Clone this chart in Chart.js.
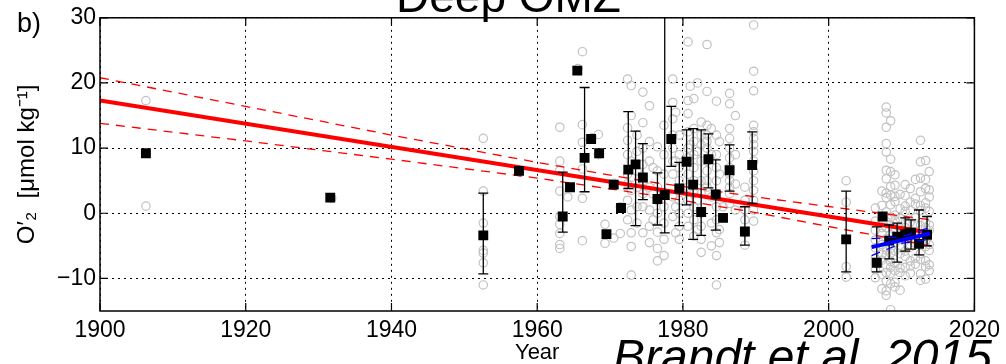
<!DOCTYPE html>
<html>
<head>
<meta charset="utf-8">
<script src="https://cdn.jsdelivr.net/npm/chart.js@4"></script>
<style>
  body { margin: 0; background: #fff; overflow: hidden; }
  #wrap { position: relative; width: 1006px; height: 364px; overflow: hidden; }
  .note { position: absolute; font-family: "Liberation Sans", Arial, sans-serif; color: #000; white-space: nowrap; line-height: 1; }
</style>
</head>
<body>
<div id="wrap">
  <canvas id="omzChart"></canvas>
  <div class="note" style="left:17px; top:10px; font-size:27px;">b)</div>
  <div class="note" style="left:396px; top:-27px; font-size:46px;">Deep OMZ</div>
  <div class="note" style="left:613px; top:333px; font-size:48px; font-style:italic;">Brandt et al. 2015</div>
</div>
<script>
// axis ticks
const xTicks = [1900, 1920, 1940, 1960, 1980, 2000, 2020];
const yTicks = [-10, 0, 10, 20, 30];

// individual profiles (gray circles), grouped by year
const obsYear = [1906.3, 1931.8, 1952.6, 1957.6, 1963.1, 1964.2, 1965.6, 1966.2, 1967.5, 1968.4,
  1969.3, 1970.5, 1971.4, 1972.4, 1972.9, 1973.7, 1974.5, 1975.4, 1975.9, 1976.5,
  1977.4, 1978.6, 1979.0, 1979.5, 1980.7, 1981.0, 1981.5, 1982.0, 1982.5, 1983.3,
  1983.9, 1984.6, 1985.0, 1985.5, 1986.4, 1987.2, 1988.5, 1989.7, 2002.4, 2006.4,
  2007.3, 2007.9, 2008.5, 2009.1, 2009.8, 2010.5, 2011.2, 2011.9, 2012.6, 2013.3,
  2013.8];
const obsO2 = [
  [17.3, 1.1],
  [2.3],
  [11.5, 3.4, -1.5, -5.7, -6.1, -7.6, -11.0],
  [6.3],
  [13.2, 8.0, 6.6, 3.4, -0.5, -1.7, -3.1, -4.8, -5.4],
  [2.5],
  [22.2],
  [24.8, 13.6, 10.9, 6.8, 2.3, -4.2],
  [11.6],
  [12.1, 9.0],
  [-1.7, -4.6],
  [4.6, -3.8],
  [1.0, -3.1],
  [20.6, 13.1, 11.2, 9.0, 6.0, 4.5, 2.0, -1.0],
  [19.6, 15.0, 8.0, 5.5, 3.5, 0.5, -3.0, -5.1, -9.5],
  [12.0, 9.5, 6.5, 4.0, 1.0, -1.5],
  [18.6, 13.9, 10.0, 7.5, 5.0, 3.0, 1.0, -3.0],
  [16.5, 11.0, 8.0, 4.0, 0.5, -2.0, -4.5],
  [7.0, 3.0, -1.0],
  [10.2, 6.5, 4.0, 2.0, 0.0, -2.9, -5.4, -7.3],
  [13.5, 9.0, 6.0, 3.0, 1.0, -1.5, -4.0, -6.5],
  [20.6, 17.0, 14.5, 12.0, 10.0, 8.0, 6.0, 2.5, -0.5],
  [15.5, 8.0, 1.0, -3.0],
  [12.0, 9.0, 7.0, 5.0, 3.5, 2.0, 0.0, -2.0, -4.0],
  [26.3, 17.3, 15.3, 12.5, 10.0, 8.5, 6.0, 4.0, 2.0, 0.0, -2.0],
  [19.5, 10.5, 4.5],
  [17.6, 13.0, 11.0, 9.0, 7.0, 5.0, 3.0, 1.0, -1.0, -3.5],
  [20.0, 9.5, 2.0, -2.5],
  [14.0, 12.0, 10.5, 8.0, 5.0, 3.0, 0.0, -2.0, -4.0, -6.0],
  [25.9, 18.7, 13.5, 12.0, 11.0, 10.0, 8.0, 6.5, 5.0, 4.0],
  [13.0, 9.0, 2.5, -1.5, -5.0],
  [17.2, 12.0, 9.0, 7.0, 5.0, 3.0, 1.0, -1.0, -3.0, -6.5, -11.0],
  [11.0, 6.0, -2.5, -4.5],
  [1.0, -0.7],
  [18.4, 16.8, 13.0, 11.5, 10.0, 8.5, 7.0, 6.0, 5.0, 4.0, 3.0, 1.5],
  [15.0, 9.0, 4.5, 0.5],
  [4.0, 2.0, 0.5, -1.0, -3.0, -4.9],
  [28.9, 21.8, 18.8, 13.5, 12.5, 11.5, 10.5, 9.5, 8.0, 6.5, 5.0, 3.5, 2.0, 0.5, -1.2],
  [5.0, 1.7, -4.0, -8.2, -9.8],
  [0.8, -1.2, -2.6, -4.1, -5.3, -6.9, -7.7, -8.6, -9.9],
  [3.4, 1.2, -0.9, -2.2, -3.1, -4.8, -6.3, -7.2, -9.4, -11.6],
  [16.3, 15.4, 13.2, 10.7, 9.4, 6.6, 5.3, 3.1, 2.4, 0.2, -1.3, -2.2, -3.9, -5.6, -6.4, -7.9, -9.1, -10.4, -11.9, -12.6],
  [14.2, 8.3, 6.4, 4.1, 2.8, 1.3, -0.6, -1.8, -3.3, -4.2, -5.4, -6.1, -7.4, -8.3, -9.2, -10.8, -14.8],
  [5.9, 4.3, 2.6, 1.8, -0.3, -1.1, -2.7, -4.6, -5.8, -7.7, -8.8, -10.6, -11.3],
  [2.9, 0.7, -0.8, -2.3, -3.2, -5.3, -6.2, -8.4, -9.1, -11.8],
  [4.4, 2.7, 1.1, 0.3, -1.4, -2.2, -3.7, -5.8, -6.6, -8.3, -9.6],
  [3.8, 1.7, 0.4, -1.3, -2.8, -3.6, -5.2, -7.3, -8.1, -9.2],
  [5.2, 2.3, 1.4, -0.7, -1.6, -3.8, -4.6, -6.9, -7.8],
  [11.2, 7.9, 5.4, 3.3, 1.2, 0.4, -1.9, -2.6, -4.3, -6.2, -7.1, -9.3, -10.3],
  [8.1, 5.2, 3.8, 1.6, 0.8, -1.4, -2.2, -4.4, -5.1, -7.3, -8.2, -10.1],
  [6.4, 3.6, 2.5, 0.3, -1.8, -2.6, -4.8, -5.7, -7.9, -8.8]
];

// yearly means (black squares) and their error bars
const meanYear = [1906.3, 1931.6, 1952.6, 1957.5, 1963.5, 1964.5, 1965.5, 1966.5, 1967.4, 1968.5,
  1969.5, 1970.5, 1971.5, 1972.5, 1973.5, 1974.5, 1976.5, 1977.5, 1978.4, 1979.5,
  1980.5, 1981.4, 1982.5, 1983.5, 1984.5, 1985.5, 1986.4, 1988.5, 1989.5, 2002.4,
  2006.6, 2007.4, 2008.3, 2009.4, 2010.5, 2011.3, 2012.4, 2013.5];
const meanO2 = [9.2, 2.4, -3.4, 6.5, -0.5, 4.0, 21.9, 8.5, 11.4, 9.2,
  -3.2, 4.4, 0.8, 6.7, 7.5, 5.5, 2.2, 2.8, 11.4, 3.8,
  7.9, 4.4, 0.2, 8.3, 2.9, -0.7, 6.6, -2.8, 7.4, -4.0,
  -7.6, -0.5, -4.2, -3.6, -3.2, -3.0, -4.7, -3.3];
const errLow = [null, null, -9.3, null, -2.9, null, null, 3.3, null, null,
  null, null, null, 3.8, -1.9, 2.1, -1.8, -3.0, 7.2, -1.9,
  1.3, -4.0, -3.4, 3.9, -2.6, null, 3.4, -4.9, 1.5, -9.0,
  -9.0, null, -7.0, -7.5, -5.8, -5.5, -6.4, -5.0];
const errHigh = [null, null, 3.1, null, 6.3, null, null, 19.3, null, null,
  null, null, null, 15.6, 12.6, 10.7, 6.2, 40, 16.4, 7.8,
  12.8, 13.0, 12.8, 12.2, 8.2, null, 10.5, 1.0, 12.5, 3.4,
  -2.1, null, -1.8, -1.5, -0.7, -1.0, 0.5, -0.5];

// long-term trend (red) with confidence bounds
const trendYear = [1900, 2014];
const trendO2 = [17.3, -3.0];
const ciYear = [1900, 1920, 1940, 1960, 1975, 1990, 2005, 2014];
const ciUpper = [20.8, 16.4, 12.0, 7.8, 4.9, 2.5, 0.3, -1.0];
const ciLower = [13.8, 11.1, 8.3, 5.4, 2.9, 0.1, -3.1, -5.0];

// recent trend (blue) with confidence bounds
const recentYear = [2005.9, 2013.9];
const recentO2 = [-5.2, -3.1];
const recentCiYear = [2005.9, 2010, 2013.9];
const recentUpper = [-3.9, -3.6, -2.2];
const recentLower = [-6.5, -4.6, -4.0];

const pts = (xs, ys) => xs.map((x, i) => ({ x: x, y: ys[i] }));
const obsPoints = [];
obsYear.forEach((yr, i) => obsO2[i].forEach(v => obsPoints.push({ x: yr, y: v })));

const FONT = "'Liberation Sans', Arial, sans-serif";

const frame = {
  id: 'frame',
  afterDatasetDraw(chart, args) {
    if (args.index !== 3) return;
    // error bars, drawn just after the red trend
    const { ctx, chartArea: a } = chart;
    const x = chart.scales.x, y = chart.scales.y;
    ctx.save();
    ctx.beginPath();
    ctx.rect(a.left, a.top, a.right - a.left, a.bottom - a.top);
    ctx.clip();
    ctx.strokeStyle = '#000';
    ctx.lineWidth = 1.3;
    ctx.beginPath();
    meanYear.forEach((yr, i) => {
      if (errLow[i] === null) return;
      const px = x.getPixelForValue(yr);
      const lo = y.getPixelForValue(errLow[i]);
      const hi = y.getPixelForValue(errHigh[i]);
      ctx.moveTo(px, lo); ctx.lineTo(px, hi);
      ctx.moveTo(px - 5, lo); ctx.lineTo(px + 5, lo);
      ctx.moveTo(px - 5, hi); ctx.lineTo(px + 5, hi);
    });
    ctx.stroke();
    ctx.restore();
  },
  afterDraw(chart) {
    const { ctx, chartArea: a } = chart;
    const x = chart.scales.x, y = chart.scales.y;
    ctx.save();
    ctx.strokeStyle = '#000';
    ctx.lineWidth = 1.2;
    ctx.beginPath();
    xTicks.forEach(v => {
      const px = x.getPixelForValue(v);
      ctx.moveTo(px, a.bottom); ctx.lineTo(px, a.bottom - 8);
      ctx.moveTo(px, a.top); ctx.lineTo(px, a.top + 8);
    });
    yTicks.forEach(v => {
      const py = y.getPixelForValue(v);
      ctx.moveTo(a.left, py); ctx.lineTo(a.left + 8, py);
      ctx.moveTo(a.right, py); ctx.lineTo(a.right - 8, py);
    });
    ctx.stroke();
    ctx.lineWidth = 1.5;
    ctx.strokeRect(a.left, a.top, a.right - a.left, a.bottom - a.top);
    ctx.restore();
  }
};

const ctx = document.getElementById('omzChart').getContext('2d');
new Chart(ctx, {
  type: 'scatter',
  data: {
    datasets: [
      {
        data: obsPoints,
        pointStyle: 'circle',
        pointRadius: 4.2,
        borderWidth: 1.2,
        borderColor: '#c2c2c2',
        backgroundColor: 'rgba(0,0,0,0)',
        order: 6
      },
      {
        data: pts(ciYear, ciUpper),
        showLine: true, pointRadius: 0,
        borderColor: '#ff0000', borderWidth: 1.3, borderDash: [9, 7],
        order: 5
      },
      {
        data: pts(ciYear, ciLower),
        showLine: true, pointRadius: 0,
        borderColor: '#ff0000', borderWidth: 1.3, borderDash: [9, 7],
        order: 5
      },
      {
        data: pts(trendYear, trendO2),
        showLine: true, pointRadius: 0,
        borderColor: '#ff0000', borderWidth: 4,
        order: 4
      },
      {
        data: pts(meanYear, meanO2),
        pointStyle: 'rect',
        pointRadius: 7,
        borderWidth: 0,
        backgroundColor: '#000',
        order: 2
      },
      {
        data: pts(recentCiYear, recentUpper),
        showLine: true, pointRadius: 0,
        borderColor: '#0000ff', borderWidth: 1.3, borderDash: [9, 7],
        order: 1
      },
      {
        data: pts(recentCiYear, recentLower),
        showLine: true, pointRadius: 0,
        borderColor: '#0000ff', borderWidth: 1.3, borderDash: [9, 7],
        order: 1
      },
      {
        data: pts(recentYear, recentO2),
        showLine: true, pointRadius: 0,
        borderColor: '#0000ff', borderWidth: 4,
        order: 0
      }
    ]
  },
  options: {
    responsive: true,
    maintainAspectRatio: false,
    animation: false,
    layout: { padding: { top: 17, right: 26, left: 0, bottom: 0 } },
    plugins: {
      legend: { display: false },
      tooltip: { enabled: false }
    },
    scales: {
      x: {
        type: 'linear',
        min: 1900,
        max: 2020,
        afterBuildTicks: s => { s.ticks = xTicks.map(v => ({ value: v })); },
        afterFit: s => { s.height = 53; },
        ticks: {
          color: '#000',
          font: { family: FONT, size: 23 },
          padding: 6,
          maxRotation: 0,
          autoSkip: false,
          callback: v => String(v)
        },
        grid: { color: '#000', lineWidth: 1, drawTicks: false },
        border: { display: false, dash: [2, 4] },
        title: {
          display: true,
          text: 'Year',
          color: '#000',
          font: { family: FONT, size: 22, lineHeight: 1 },
          padding: { top: 0, bottom: 0 }
        }
      },
      y: {
        type: 'linear',
        min: -15,
        max: 30,
        afterBuildTicks: s => { s.ticks = yTicks.map(v => ({ value: v })); },
        afterFit: s => { s.width = 100; },
        ticks: {
          color: '#000',
          font: { family: FONT, size: 23 },
          padding: 4,
          callback: v => String(v).replace('-', '\u2212')
        },
        grid: { color: '#000', lineWidth: 1, drawTicks: false },
        border: { display: false, dash: [2, 4] },
        title: {
          display: true,
          text: 'O\u2032\u2082  [\u03bcmol kg\u207b\u00b9]',
          color: '#000',
          font: { family: FONT, size: 24, lineHeight: 1 },
          padding: { top: 15, bottom: 0 }
        }
      }
    }
  },
  plugins: [frame]
});
</script>
</body>
</html>
